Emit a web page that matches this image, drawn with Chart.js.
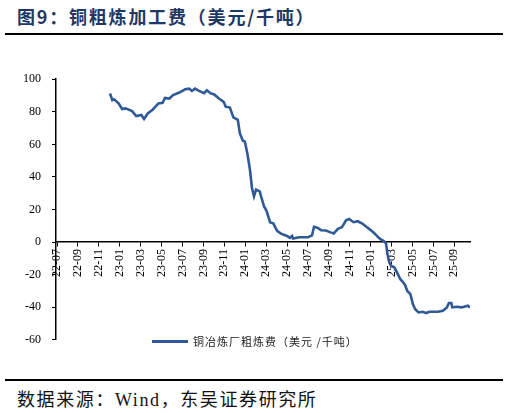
<!DOCTYPE html>
<html>
<head>
    <meta charset="utf-8">
    <title>铜粗炼加工费</title>
    <script src="https://cdn.jsdelivr.net/npm/chart.js"></script>
    <style>
        body {
            margin: 0;
            width: 509px;
            height: 413px;
            background: #fff;
            position: relative;
            overflow: hidden;
        }

        .title {
            position: absolute;
            left: 17px;
            top: 4px;
            font-family: "Noto Sans CJK SC", sans-serif;
            font-weight: bold;
            font-size: 18px;
            letter-spacing: 1.8px;
            color: #1f3864;
            line-height: 24px;
            white-space: nowrap;
        }

        .rule {
            position: absolute;
            left: 5px;
            width: 498px;
            height: 2px;
            background: #000;
        }

        .chart-box {
            position: absolute;
            left: 0;
            top: 61px;
            width: 509px;
            height: 297px;
        }

        /* 图例 */
        .legend {
            position: absolute;
            left: 152px;
            top: 333px;
            height: 16px;
            display: flex;
            align-items: center;
            white-space: nowrap;
        }

        .legend .swatch {
            width: 36px;
            height: 3px;
            background: #2f5a97;
            margin-right: 5px;
        }

        .legend span {
            font-family: "Noto Sans CJK SC", sans-serif;
            font-size: 11px;
            letter-spacing: 1px;
            color: #222;
        }

        .source {
            position: absolute;
            left: 17px;
            top: 388px;
            font-family: "Liberation Serif", "Noto Sans CJK SC", serif;
            font-size: 18px;
            letter-spacing: 1.6px;
            line-height: 24px;
            color: #111;
            white-space: nowrap;
        }
    </style>
</head>
<body>
    <div class="title">图9：铜粗炼加工费（美元/千吨）</div>
    <div class="rule" style="top:33px"></div>

    <div class="chart-box">
        <canvas id="tcChart"></canvas>
    </div>

    <div class="legend">
        <div class="swatch"></div>
        <span>铜冶炼厂粗炼费（美元 /千吨）</span>
    </div>

    <div class="rule" style="top:379px"></div>
    <div class="source">数据来源：Wind，东吴证券研究所</div>

    <script>
        // 日期与数值
        var dates = [
            '2022-12-03', '2022-12-10', '2022-12-15', '2022-12-29', '2023-01-08', '2023-01-18',
            '2023-02-06', '2023-02-17', '2023-03-03', '2023-03-11', '2023-03-22', '2023-04-06',
            '2023-04-22', '2023-05-04', '2023-05-11', '2023-05-24', '2023-06-04', '2023-06-22',
            '2023-07-09', '2023-07-21', '2023-07-29', '2023-08-07', '2023-08-19', '2023-09-03',
            '2023-09-11', '2023-09-21', '2023-10-02', '2023-10-16', '2023-10-30', '2023-11-05',
            '2023-11-17', '2023-11-27', '2023-12-10', '2023-12-16', '2023-12-25', '2023-12-31',
            '2024-01-08', '2024-01-15', '2024-01-21', '2024-01-27', '2024-02-02', '2024-02-12',
            '2024-02-24', '2024-03-02', '2024-03-13', '2024-03-22', '2024-04-03', '2024-04-15',
            '2024-05-01', '2024-05-10', '2024-05-16', '2024-05-19', '2024-06-06', '2024-07-01',
            '2024-07-13', '2024-07-19', '2024-07-29', '2024-08-09', '2024-08-23', '2024-09-04',
            '2024-09-15', '2024-09-27', '2024-10-09', '2024-10-21', '2024-10-30', '2024-11-12',
            '2024-11-24', '2024-12-07', '2024-12-20', '2025-01-02', '2025-01-14', '2025-01-22',
            '2025-01-30', '2025-02-08', '2025-02-14', '2025-02-18', '2025-02-23', '2025-02-28',
            '2025-03-10', '2025-03-20', '2025-03-27', '2025-04-03', '2025-04-10', '2025-04-16',
            '2025-04-25', '2025-05-02', '2025-05-09', '2025-05-19', '2025-06-01', '2025-06-10',
            '2025-06-20', '2025-07-14', '2025-07-29', '2025-08-10', '2025-08-16', '2025-08-23',
            '2025-08-26', '2025-09-09', '2025-09-21', '2025-10-02', '2025-10-10', '2025-10-16'
        ];
        var tcValues = [
            91.2, 87.1, 87.7, 85.1, 81.7, 82.1,
            80.4, 77.4, 78.0, 75.6, 79.0, 81.4,
            85.1, 85.5, 88.5, 88.1, 90.2, 91.8,
            93.8, 94.2, 92.8, 94.2, 92.8, 91.4,
            93.2, 91.4, 90.6, 88.1, 86.1, 83.1,
            82.6, 76.6, 75.1, 66.8, 62.2, 61.7,
            53.6, 44.4, 33.2, 28.1, 32.2, 31.1,
            22.0, 19.2, 12.1, 11.5, 6.7, 5.0,
            3.7, 2.6, 3.7, 2.2, 3.0, 3.0,
            4.1, 9.4, 8.8, 7.3, 7.1, 6.1,
            5.3, 8.1, 9.2, 13.4, 14.2, 12.2,
            12.8, 11.4, 9.2, 7.2, 5.0, 3.2,
            1.8, 0.6, -0.8, -7.5, -12.6, -14.7,
            -15.7, -19.8, -22.8, -24.4, -26.5, -30.0,
            -32.0, -38.1, -41.2, -43.2, -42.8, -43.6,
            -42.8, -42.8, -42.2, -40.1, -37.4, -37.4,
            -40.1, -39.7, -40.1, -39.5, -39.1, -40.1
        ];
        var yTicks = [100, 80, 60, 40, 20, 0, -20, -40, -60];

        // 日期 -> 自2022-07起的月份序号
        function monthIndex(s) {
            var p = s.split('-').map(Number);
            var dim = new Date(p[0], p[1], 0).getDate();
            return (p[0] - 2022) * 12 + (p[1] - 7) + (p[2] - 1) / dim;
        }

        // 月份序号 -> "YY-MM"
        function monthLabel(v) {
            var t = 6 + Math.round(v);
            var yy = 22 + Math.floor(t / 12);
            var mm = (t % 12) + 1;
            return yy + '-' + (mm < 10 ? '0' + mm : mm);
        }

        var points = dates.map(function (d, i) {
            return { x: monthIndex(d), y: tcValues[i] };
        });

        var tickFont = { family: '"Liberation Serif", "Times New Roman", serif', size: 12 };

        var ctx = document.getElementById('tcChart').getContext('2d');
        var tcChart = new Chart(ctx, {
            type: 'line',
            data: {
                datasets: [{
                    label: '铜冶炼厂粗炼费（美元 /千吨）',
                    data: points,
                    borderColor: '#2f5a97',
                    borderWidth: 2.6,
                    pointRadius: 0,
                    tension: 0,
                    fill: false
                }]
            },
            options: {
                responsive: true,
                maintainAspectRatio: false,
                animation: false,
                layout: {
                    padding: { top: 8, right: 39, bottom: 0, left: 12 }
                },
                plugins: {
                    legend: { display: false },
                    tooltip: { enabled: false }
                },
                scales: {
                    x: {
                        type: 'linear',
                        position: { y: 0 },
                        min: -0.1,
                        max: 39.5,
                        grid: {
                            drawOnChartArea: false,
                            drawTicks: true,
                            tickLength: 4,
                            color: '#000'
                        },
                        border: { color: '#000', width: 1.5 },
                        ticks: {
                            stepSize: 2,
                            includeBounds: false,
                            autoSkip: false,
                            minRotation: 90,
                            maxRotation: 90,
                            padding: 3,
                            color: '#000',
                            font: tickFont,
                            callback: function (v) { return monthLabel(v); }
                        }
                    },
                    y: {
                        min: -60,
                        max: 100,
                        afterBuildTicks: function (scale) {
                            scale.ticks = yTicks.map(function (v) { return { value: v }; });
                        },
                        grid: {
                            drawOnChartArea: false,
                            drawTicks: true,
                            tickLength: 4,
                            color: '#000'
                        },
                        border: { color: '#000', width: 1.5 },
                        ticks: {
                            padding: 11,
                            color: '#000',
                            font: tickFont
                        }
                    }
                }
            }
        });
    </script>
</body>
</html>
